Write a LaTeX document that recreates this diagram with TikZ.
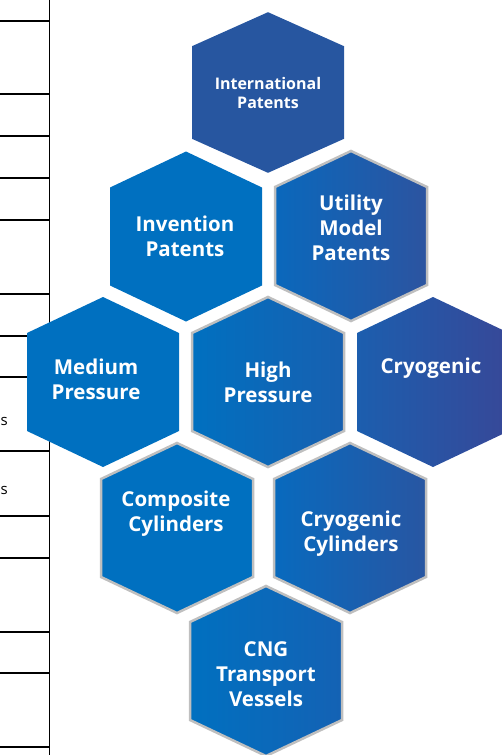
\documentclass[tikz,border=0pt]{standalone}
\usepackage{fontspec}
\setmainfont{Open Sans}
\definecolor{cellblue}{RGB}{0,112,192}
\definecolor{intlblue}{RGB}{39,86,160}
\definecolor{rimgray}{RGB}{191,191,191}
\definecolor{utilleft}{RGB}{10,104,188}
\definecolor{deepblue}{RGB}{44,84,160}
\definecolor{highright}{RGB}{24,96,176}
\definecolor{cryoleft}{RGB}{28,94,174}
\definecolor{purpleblue}{RGB}{55,72,152}
\definecolor{cylleft}{RGB}{8,106,190}
\definecolor{cylright}{RGB}{40,86,162}
\definecolor{cngright}{RGB}{20,98,180}
\tikzset{
  hexlabel/.style={text=white, font=\bfseries\fontsize{20.5}{25}\selectfont, align=center},
  rim/.style={draw=rimgray, line width=2.5pt},
  rule/.style={line width=1.7pt}
}
% one hexagon: centre x, centre y, left colour, right colour, extra options
\newcommand{\hexcell}[5]{%
  \shade[shift={(#1,#2)}, left color=#3, right color=#4, #5]
    (0,-85) -- (76,-49) -- (76,49) -- (0,85) -- (-76,49) -- (-76,-49) -- cycle;}
\begin{document}
\begin{tikzpicture}[x=1pt,y=-1pt]
  \useasboundingbox (0,0) rectangle (502,755);
  % table at the left
  \draw[rule] (49.5,0) -- (49.5,755);
  \draw[rule] (0,21) -- (49.5,21);
  \draw[rule] (0,94) -- (49.5,94);
  \draw[rule] (0,136) -- (49.5,136);
  \draw[rule] (0,178) -- (49.5,178);
  \draw[rule] (0,220) -- (49.5,220);
  \draw[rule] (0,294) -- (49.5,294);
  \draw[rule] (0,336) -- (49.5,336);
  \draw[rule] (0,377) -- (49.5,377);
  \draw[rule] (0,451) -- (49.5,451);
  \draw[rule] (0,516) -- (49.5,516);
  \draw[rule] (0,558) -- (49.5,558);
  \draw[rule] (0,632) -- (49.5,632);
  \draw[rule] (0,673) -- (49.5,673);
  \draw[rule] (0,747) -- (49.5,747);
  \node[anchor=base west, inner sep=0pt, font=\fontsize{15}{18}\selectfont] (cellA) at (0.5,425) {s};
  \node[anchor=base west, inner sep=0pt, font=\fontsize{15}{18}\selectfont] (cellB) at (0.5,494) {s};
  % hexagons
  \hexcell{268}{92.5}{intlblue}{intlblue}{yscale=0.945}
  \hexcell{186}{236.5}{cellblue}{cellblue}{}
  \hexcell{351}{236}{utilleft}{deepblue}{rim}
  \hexcell{103}{382}{cellblue}{cellblue}{}
  \hexcell{268}{382}{cellblue}{highright}{rim}
  \hexcell{433}{382}{cryoleft}{purpleblue}{}
  \hexcell{177}{528}{cellblue}{cellblue}{rim}
  \hexcell{350}{528}{cylleft}{cylright}{rim}
  \hexcell{266}{671}{cellblue}{cngright}{rim}
  % labels
  \node[hexlabel, font=\bfseries\fontsize{16}{18.5}\selectfont] (intl) at (268,93) {International\\Patents};
  \node[hexlabel] (invent) at (185,236) {Invention\\Patents};
  \node[hexlabel] (utility) at (351,228) {Utility\\Model\\Patents};
  \node[hexlabel] (medium) at (96,379) {Medium\\Pressure};
  \node[hexlabel] (high) at (268,382) {High\\Pressure};
  \node[hexlabel] (cryo) at (431,368) {Cryogenic};
  \node[hexlabel] (composite) at (176,514) {Composite\\Cylinders};
  \node[hexlabel] (cryocyl) at (351,534) {Cryogenic\\Cylinders};
  \node[hexlabel] (cng) at (266,674) {CNG\\Transport\\Vessels};
\end{tikzpicture}
\end{document}
